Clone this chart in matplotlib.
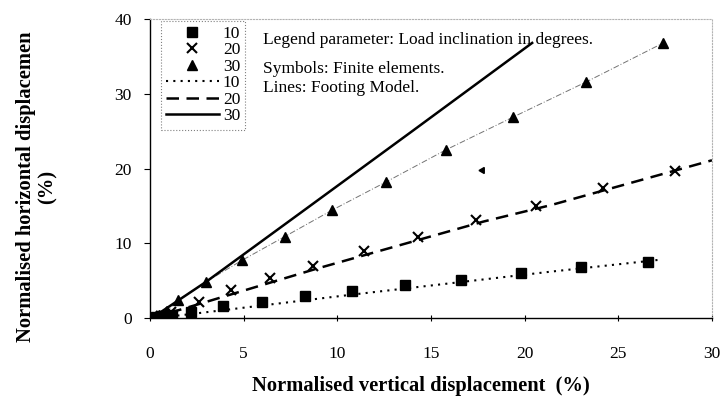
import numpy as np
import matplotlib
matplotlib.use('Agg')
import matplotlib.pyplot as plt

plt.rcParams['font.family'] = ['Liberation Serif', 'DejaVu Serif']

# finite element results (symbols)
fe10_x = [0.0, 0.3, 0.6, 0.9, 1.2, 2.2, 3.9, 6.0, 8.3, 10.8, 13.6, 16.6, 19.8, 23.0, 26.6]
fe10_y = [0.0, 0.1, 0.2, 0.3, 0.4, 0.8, 1.6, 2.2, 2.9, 3.65, 4.4, 5.1, 6.0, 6.8, 7.5]
fe20_x = [0.2, 0.6, 1.1, 2.6, 4.3, 6.4, 8.7, 11.4, 14.3, 17.4, 20.6, 24.2, 28.0]
fe20_y = [0.1, 0.3, 0.8, 2.2, 3.8, 5.4, 7.0, 8.9, 10.9, 13.1, 15.0, 17.4, 19.6]
fe30_x = [0.2, 0.5, 0.9, 1.5, 3.0, 4.9, 7.2, 9.7, 12.6, 15.8, 19.4, 23.3, 27.4]
fe30_y = [0.1, 0.4, 0.9, 2.4, 4.85, 7.7, 10.9, 14.4, 18.2, 22.5, 26.9, 31.6, 36.8]

# footing model (lines)
fm10_x = [0.3, 2.1, 10.7, 21.4, 27.1]
fm10_y = [0.0, 0.5, 3.1, 6.2, 7.76]
fm20_x = [0.0, 1.6, 8.9, 17.8, 21.4, 30.0]
fm20_y = [0.0, 1.1, 6.6, 12.9, 15.1, 21.1]
fm30_x = [0.1, 1.3, 3.0, 8.0, 14.0, 20.4]
fm30_y = [0.0, 2.0, 4.85, 14.0, 25.0, 36.8]

fig = plt.figure(figsize=(7.26, 4.16), dpi=100)
ax = fig.add_axes([0.2066, 0.2356, 0.7741, 0.7187])

fs = 12.5
lfs = 14.8

# thin connector through the 30 deg FE points
ax.plot(fe30_x, fe30_y, color='0.45', lw=0.7, dashes=(6, 2, 1, 2))

h1, = ax.plot(fe10_x, fe10_y, 's', color='black', ms=6.5, label='10')
h2, = ax.plot(fe20_x, fe20_y, 'x', color='black', ms=7, mew=1.5, label='20')
h3, = ax.plot(fe30_x, fe30_y, '^', color='black', ms=7.5, label='30')
h4, = ax.plot(fm10_x, fm10_y, color='black', lw=1.5, ls=(0, (1, 2.5)), label='10')
h5, = ax.plot(fm20_x, fm20_y, color='black', lw=1.8, ls=(0, (5, 3)), label='20')
h6, = ax.plot(fm30_x, fm30_y, color='black', lw=1.8, ls='-', label='30')

# stray pointer mark from the original figure
ax.plot([17.7], [19.8], marker=(3, 0, -30), color='black', ms=5)

ax.set_xlim(0, 30)
ax.set_ylim(0, 40)
ax.set_xticks([0, 5, 10, 15, 20, 25, 30])
ax.set_yticks([0, 10, 20, 30, 40])

for s in ['top', 'right']:
    ax.spines[s].set_linestyle(':')
    ax.spines[s].set_color('0.7')
    ax.spines[s].set_linewidth(0.8)
ax.spines['left'].set_linewidth(1.0)
ax.spines['bottom'].set_linewidth(1.0)

ax.tick_params(axis='x', direction='inout', length=4, pad=18, labelsize=fs)
ax.tick_params(axis='y', direction='out', length=4, pad=9, labelsize=fs)

ax.set_xlabel('Normalised vertical displacement  (%)', fontsize=lfs, fontweight='bold')
ax.xaxis.set_label_coords(0.482, -0.195)
ax.set_ylabel('Normalised horizontal displacemen\n(%)', fontsize=lfs,
              fontweight='bold', linespacing=1.1)
ax.yaxis.set_label_coords(-0.202, 0.44)
ax.yaxis.label.set_va('center')

leg = ax.legend(handles=[h1, h2, h3, h4, h5, h6], loc='upper left',
                bbox_to_anchor=(0.02, 0.995), fontsize=fs, handlelength=3.0,
                handletextpad=0.25, labelspacing=0.02, borderpad=0.3,
                borderaxespad=0, fancybox=False, framealpha=1)
leg.get_frame().set_edgecolor('0.5')
leg.get_frame().set_linestyle(':')
leg.get_frame().set_linewidth(0.8)

ax.text(0.201, 0.93, 'Legend parameter: Load inclination in degrees.',
        transform=ax.transAxes, fontsize=fs, va='center')
ax.text(0.201, 0.833, 'Symbols: Finite elements.',
        transform=ax.transAxes, fontsize=fs, va='center')
ax.text(0.201, 0.769, 'Lines: Footing Model.',
        transform=ax.transAxes, fontsize=fs, va='center')

fig.savefig('out.png', dpi=100)
